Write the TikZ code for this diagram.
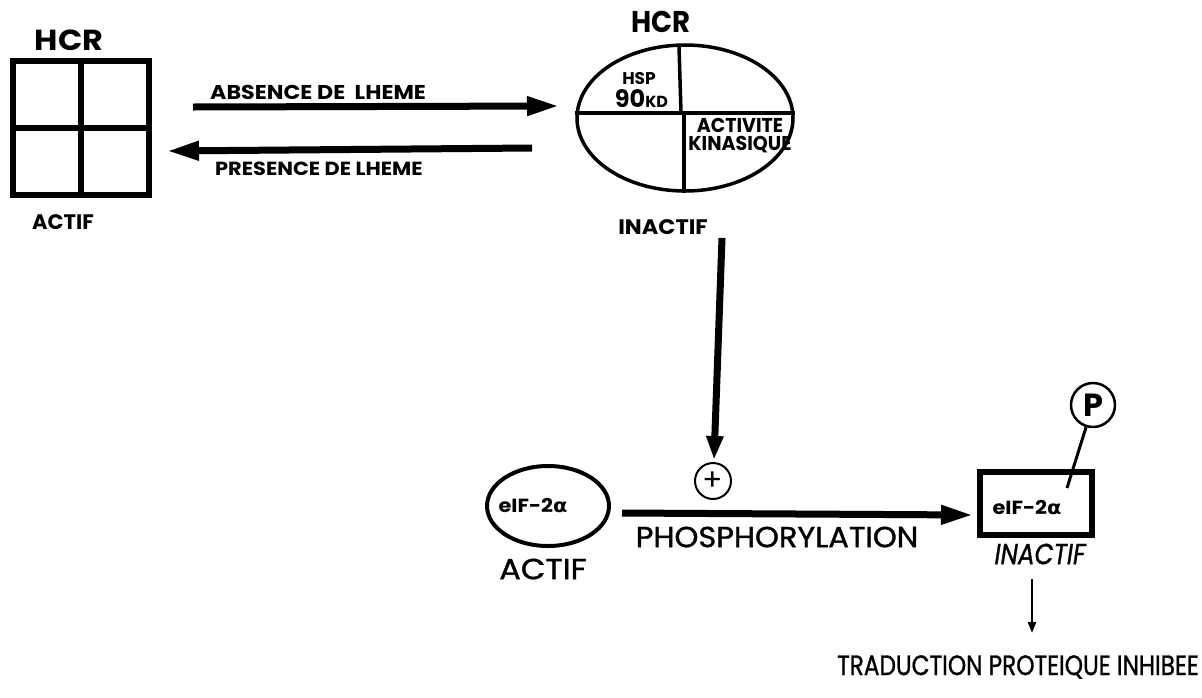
\documentclass[tikz,border=0pt]{standalone}
\usepackage{fontspec}
\setmainfont{Poppins}
\newfontfamily\medf{Poppins}[FakeBold=1.2]
\newfontfamily\grk{DejaVu Sans}
\usepackage{graphicx}
\usetikzlibrary{arrows.meta,shapes.geometric}
\newcommand{\fs}[1]{\fontsize{#1}{#1}\selectfont}
\newcommand{\hx}[2]{\scalebox{#1}[1]{#2}}
\begin{document}
\begin{tikzpicture}[x=1pt,y=-1pt,
  lbl/.style={inner sep=0pt, anchor=center},
  bigarrow/.style={line width=7pt, -{Triangle[length=32pt,width=18pt]}},
  vertarrow/.style={line width=7pt, -{Triangle[length=24pt,width=16pt]}},
  thinarrow/.style={line width=2.5pt, -{Triangle[length=11pt,width=8pt]}},
  thickline/.style={line width=6pt},
  midline/.style={line width=3.5pt},
]
\useasboundingbox (0,0) rectangle (1202,697);

% left HCR (active)
\node[lbl, font=\bfseries\fs{29}] (hcrL) at (69,40) {\hx{1.1}{HCR}};
\node[draw, thickline, rectangle, minimum width=136pt, minimum height=134pt, inner sep=0pt] (grid) at (81,128) {};
\draw[thickline] (grid.north) -- (grid.south);
\draw[thickline] (grid.west) -- (grid.east);
\node[lbl, font=\bfseries\fs{21}] (actL) at (63,222) {ACTIF};

% arrows between states
\coordinate (a1s) at (193,107);
\coordinate (a1e) at (559,106);
\coordinate (a2s) at (532,148);
\coordinate (a2e) at (167,151);
\draw[bigarrow] (a1s) -- (a1e);
\draw[bigarrow] (a2s) -- (a2e);
\node[lbl, anchor=west, font=\bfseries\fs{20}] (abs) at (210,92.5) {\hx{1.11}{ABSENCE DE\ \ LHEME}};
\node[lbl, anchor=west, font=\bfseries\fs{19}] (pres) at (215,168.5) {\hx{1.1}{PRESENCE DE LHEME}};

% right HCR (inactive)
\node[lbl, font=\bfseries\fs{30}] (hcrR) at (661,22) {\hx{0.92}{HCR}};
\node[draw, ellipse, midline, minimum width=216pt, minimum height=146pt, inner sep=0pt] (hcrE) at (685,118) {};
\draw[midline] ([yshift=5pt]hcrE.west) -- ([yshift=5pt]hcrE.east);
\coordinate (vu1) at (679,46);
\coordinate (vu2) at (681,113);
\coordinate (vl1) at (684,113);
\draw[midline] (vu1) -- (vu2);
\draw[midline] (vl1) -- (hcrE.south -| vl1);
\node[lbl, font=\bfseries\fs{17}] (hsp) at (639,79) {HSP};
\node[inner sep=0pt, anchor=base] (kd) at (641.5,107) {\bfseries\fs{24}90\fs{16}KD};
\node[lbl, font=\bfseries\fs{20}] (act) at (740,125) {\hx{0.95}{ACTIVITE}};
\node[inner sep=0pt, anchor=base, font=\bfseries\fs{20}] (kin) at (740,150) {\hx{0.95}{KINASIQUE}};
\node[lbl, font=\bfseries\fs{21}] (inaR) at (663,227) {\hx{1.07}{INACTIF}};

% arrow down to plus
\coordinate (v1) at (722,238);
\coordinate (v2) at (714,460);
\draw[vertarrow] (v1) -- (v2);
\node[draw, circle, line width=2pt, minimum size=36pt, inner sep=0pt, font=\fs{30}] (plus) at (713,481) {+};

% eIF-2 alpha active
\node[draw, ellipse, line width=4pt, minimum width=122pt, minimum height=80pt, inner sep=0pt] (eif) at (548,506) {};
\node[lbl, font=\bfseries\fs{19}] (eift) at (533,506) {\hx{1.1}{eIF-2{\grk α}}};
\node[lbl, font=\medf\fs{29}] (actB) at (543,569) {\hx{1.1}{ACTIF}};

% phosphorylation
\coordinate (p1) at (622,513);
\coordinate (p2) at (973,515);
\draw[bigarrow] (p1) -- (p2);
\node[lbl, font=\medf\fs{29}] (phos) at (777,537) {\hx{1.05}{PHOSPHORYLATION}};

% eIF-2 alpha inactive
\node[draw, thickline, rectangle, minimum width=112pt, minimum height=63pt, inner sep=0pt] (box) at (1036,503.5) {};
\node[lbl, font=\bfseries\fs{19}] (eif2) at (1027,508) {\hx{1.1}{eIF-2{\grk α}}};
\node[draw, circle, line width=2.5pt, minimum size=44pt, inner sep=0pt, font=\bfseries\fs{32}] (pc) at (1093,405) {P};
\coordinate (pend) at (1067,488);
\draw[line width=3pt] (pc) -- (pend);
\node[lbl, font=\medf\itshape\fs{29}] (inaB) at (1040,554) {\hx{0.85}{INACTIF}};

% result
\coordinate (r1) at (1032,579);
\coordinate (r2) at (1032,633);
\draw[thinarrow] (r1) -- (r2);
\node[lbl, font=\medf\fs{28}] (trad) at (1018,667) {\hx{0.83}{TRADUCTION PROTEIQUE INHIBEE}};
\end{tikzpicture}
\end{document}
